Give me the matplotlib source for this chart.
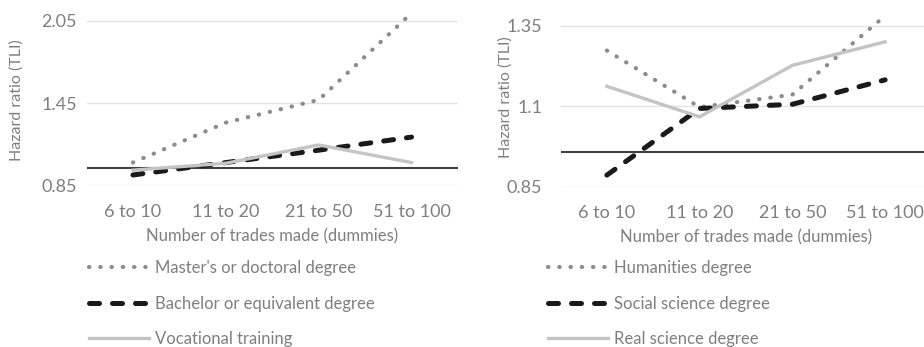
import matplotlib
matplotlib.use("Agg")
import matplotlib.pyplot as plt

plt.rcParams['font.family'] = ['Lato', 'DejaVu Sans']

# data
categories = ['6 to 10', '11 to 20', '21 to 50', '51 to 100']

masters = [1.02, 1.31, 1.475, 2.105]
bachelor = [0.93, 1.02, 1.11, 1.205]
vocational = [0.965, 1.015, 1.148, 1.02]

humanities = [1.273, 1.097, 1.136, 1.381]
social = [0.886, 1.093, 1.106, 1.182]
real_science = [1.162, 1.067, 1.227, 1.30]

ref_left = 0.98
ref_right = 0.957

left_ticks = [0.85, 1.45, 2.05]
right_ticks = [0.85, 1.1, 1.35]

grey_text = '#7f7f7f'
W, H = 924, 347

fig = plt.figure(figsize=(9.24, 3.47), dpi=100)


def px_axes(x0, x1, ytop, ybot):
    return fig.add_axes([x0 / W, 1 - ybot / H, (x1 - x0) / W, (ybot - ytop) / H])


def style(ax, ticks, ticklabels, ypad):
    ax.set_xlim(-0.5, 3.5)
    ax.set_yticks(ticks)
    ax.set_yticklabels(ticklabels)
    for s in ax.spines.values():
        s.set_visible(False)
    ax.grid(axis='y', color='#e3e3e3', linewidth=1.0)
    ax.set_axisbelow(True)
    ax.tick_params(length=0, labelsize=13, labelcolor=grey_text)
    ax.tick_params(axis='x', pad=13)
    ax.tick_params(axis='y', pad=ypad)
    ax.set_xlabel('Number of trades made (dummies)', fontsize=12,
                  color=grey_text, labelpad=6)
    ax.set_ylabel('Hazard ratio (TLI)', fontsize=11.5, color=grey_text)


dot_style = dict(color='#8c8c8c', linewidth=3.0, linestyle=(0, (0.1, 2.6)),
                 dash_capstyle='round')
dash_style = dict(color='#1a1a1a', linewidth=3.6, linestyle=(0, (2.0, 2.6)),
                  dash_capstyle='round')
solid_style = dict(color='#c4c4c4', linewidth=2.4)

# left panel
ax1 = px_axes(86.5, 458, 0, 186)
ax1.plot(categories, masters, label="Master's or doctoral degree", **dot_style)
ax1.plot(categories, bachelor, label='Bachelor or equivalent degree', **dash_style)
ax1.plot(categories, vocational, label='Vocational training', **solid_style)
ax1.axhline(ref_left, color='#404040', linewidth=1.5, zorder=1.5)
ax1.set_ylim(0.85, 2.2)
style(ax1, left_ticks, ['0.85', '1.45', '2.05'], 7)
ax1.yaxis.set_label_coords(-0.17, 0.46)

# right panel
ax2 = px_axes(560.5, 931.5, 0, 186.7)
ax2.plot(categories, humanities, label='Humanities degree', **dot_style)
ax2.plot(categories, social, label='Social science degree', **dash_style)
ax2.plot(categories, real_science, label='Real science degree', **solid_style)
ax2.axhline(ref_right, color='#404040', linewidth=1.5, zorder=1.5)
ax2.set_ylim(0.85, 1.43)
style(ax2, right_ticks, ['0.85', '1.1', '1.35'], 13)
ax2.yaxis.set_label_coords(-0.128, 0.48)

for ax, xleft in [(ax1, 89), (ax2, 548)]:
    leg = ax.legend(loc='upper left', bbox_to_anchor=(xleft / W, 1 - 260 / H),
                    bbox_transform=fig.transFigure, frameon=False,
                    fontsize=12, handlelength=3.6, handletextpad=0.35,
                    labelspacing=1.17, borderpad=0, borderaxespad=0)
    for t in leg.get_texts():
        t.set_color(grey_text)

fig.savefig('out.png', dpi=100)
